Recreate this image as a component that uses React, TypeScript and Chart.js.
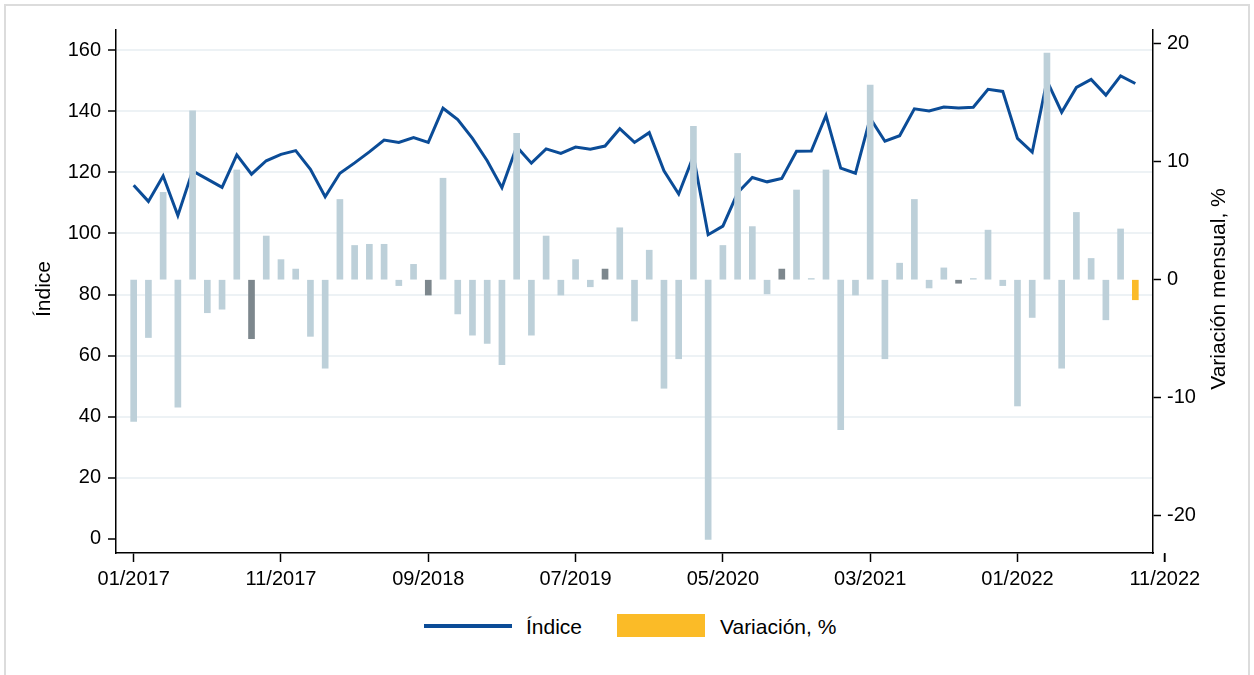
import { useEffect, useRef } from "react";
import { Chart, registerables } from "chart.js";

Chart.register(...registerables);

// Monthly index (left axis), 01/2017 .. 09/2022
const indice = [
  115.8, 110.5, 118.8, 105.9, 120.5, 117.8, 115.1, 125.7, 119.4, 123.8, 125.9, 127.1,
  121.0, 112.0, 119.7, 123.1, 126.7, 130.6, 129.8, 131.4, 129.8, 141.0, 137.3, 131.1,
  123.8, 115.0, 128.4, 123.0, 127.7, 126.2, 128.3, 127.6, 128.6, 134.3, 129.8, 133.0,
  120.5, 112.9, 125.3, 99.6, 102.4, 113.3, 118.3, 116.9, 118.0, 126.9, 127.0, 138.6,
  121.4, 119.7, 137.7, 130.2, 132.0, 140.8, 140.1, 141.4, 141.1, 141.3, 147.2, 146.5,
  131.1, 126.6, 150.0, 139.7, 147.8, 150.4, 145.3, 151.6, 149.1,
];

// Monthly variation, % (right axis)
const variacion = [
  -12.0, -4.9, 7.4, -10.8, 14.3, -2.8, -2.5, 9.3, -5.0, 3.7, 1.7, 0.9,
  -4.8, -7.5, 6.8, 2.9, 3.0, 3.0, -0.5, 1.3, -1.3, 8.6, -2.9, -4.7,
  -5.4, -7.2, 12.4, -4.7, 3.7, -1.3, 1.7, -0.6, 0.9, 4.4, -3.5, 2.5,
  -9.2, -6.7, 13.0, -22.0, 2.9, 10.7, 4.5, -1.2, 0.9, 7.6, 0.1, 9.3,
  -12.7, -1.3, 16.5, -6.7, 1.4, 6.8, -0.7, 1.0, -0.3, 0.1, 4.2, -0.5,
  -10.7, -3.2, 19.2, -7.5, 5.7, 1.8, -3.4, 4.3, -1.7,
];

const xTickValues = [0, 10, 20, 30, 40, 50, 60, 70];
const xTickLabels = ["01/2017", "11/2017", "09/2018", "07/2019", "05/2020", "03/2021", "01/2022", "11/2022"];
const leftTicks = [0, 20, 40, 60, 80, 100, 120, 140, 160];
const rightTicks = [-20, -10, 0, 10, 20];

const FONT = "'Liberation Sans', Arial, Helvetica, sans-serif";
const LINE_COLOR = "#0b4c97";
const BAR_LIGHT = "#bdd0d9";
const BAR_DARK = "#7d878d";
const BAR_LAST = "#fbbb27";

export default function App() {
  const ref = useRef<HTMLCanvasElement | null>(null);

  useEffect(() => {
    document.body.style.margin = "0";
    const canvas = ref.current;
    if (!canvas) return;

    const barColors = variacion.map((_, i) =>
      i === variacion.length - 1 ? BAR_LAST : i % 12 === 8 ? BAR_DARK : BAR_LIGHT
    );

    const extras = {
      id: "extras",
      afterDraw(chart: any) {
        const { ctx, chartArea, scales } = chart;
        ctx.save();
        // detached last x tick (outside plot region)
        const x70 = scales.x.getPixelForValue(70);
        ctx.strokeStyle = "#000";
        ctx.lineWidth = 1.5;
        ctx.beginPath();
        ctx.moveTo(x70, chartArea.bottom);
        ctx.lineTo(x70, chartArea.bottom + 9);
        ctx.stroke();
        // axis titles, both reading bottom-to-top
        ctx.fillStyle = "#000";
        ctx.font = `21px ${FONT}`;
        ctx.textAlign = "center";
        ctx.textBaseline = "middle";
        ctx.save();
        ctx.translate(44, 289);
        ctx.rotate(-Math.PI / 2);
        ctx.fillText("Índice", 0, 0);
        ctx.restore();
        ctx.save();
        ctx.translate(1219, 289);
        ctx.rotate(-Math.PI / 2);
        ctx.fillText("Variación mensual, %", 0, 0);
        ctx.restore();
        ctx.restore();
      },
    };

    const tickFont = { family: FONT, size: 20 };

    const chart = new Chart(canvas, {
      type: "line",
      data: {
        datasets: [
          {
            type: "bar",
            label: "Variación, %",
            data: variacion.map((v, i) => ({ x: i, y: v })),
            backgroundColor: barColors,
            borderWidth: 0,
            barThickness: 6,
            yAxisID: "y1",
            order: 0,
          } as any,
          {
            type: "line",
            label: "Índice",
            data: indice.map((v, i) => ({ x: i, y: v })),
            borderColor: LINE_COLOR,
            borderWidth: 3,
            pointRadius: 0,
            tension: 0,
            fill: false,
            yAxisID: "y",
            order: 1,
          } as any,
        ],
      },
      options: {
        animation: false,
        responsive: false,
        devicePixelRatio: 1,
        layout: { padding: { top: 30, left: 0, right: 0, bottom: 0 } },
        plugins: { legend: { display: false }, tooltip: { enabled: false }, title: { display: false } },
        scales: {
          x: {
            type: "linear",
            min: -1.2,
            max: 69.2,
            offset: false,
            afterBuildTicks: (s: any) => {
              s.ticks = xTickValues.map((v) => ({ value: v }));
            },
            afterFit: (s: any) => {
              s.height = 47;
            },
            ticks: {
              autoSkip: false,
              maxRotation: 0,
              minRotation: 0,
              padding: 5,
              color: "#000",
              font: tickFont,
              callback: (v: any) => {
                const idx = xTickValues.indexOf(Number(v));
                return idx >= 0 ? xTickLabels[idx] : "";
              },
            },
            grid: {
              offset: false,
              drawOnChartArea: false,
              drawTicks: true,
              tickLength: 9,
              tickColor: "#000",
              tickWidth: 1.5,
            },
            border: { display: true, color: "#000", width: 1.5 },
          },
          y: {
            type: "linear",
            position: "left",
            min: -4.6,
            max: 166.6,
            afterBuildTicks: (s: any) => {
              s.ticks = leftTicks.map((v) => ({ value: v }));
            },
            afterFit: (s: any) => {
              s.width = 116;
            },
            ticks: { padding: 7, color: "#000", font: tickFont },
            grid: {
              drawOnChartArea: true,
              drawTicks: true,
              tickLength: 8,
              tickColor: "#000",
              tickWidth: 1.5,
              lineWidth: 2,
              color: (c: any) => (c.tick && c.tick.value === 0 ? "rgba(0,0,0,0)" : "#edf2f5"),
            },
            border: { display: true, color: "#000", width: 1.5 },
          },
          y1: {
            type: "linear",
            position: "right",
            min: -23.16,
            max: 21.16,
            afterBuildTicks: (s: any) => {
              s.ticks = rightTicks.map((v) => ({ value: v }));
            },
            afterFit: (s: any) => {
              s.width = 101;
            },
            ticks: { padding: 6, color: "#000", font: tickFont },
            grid: {
              drawOnChartArea: false,
              drawTicks: true,
              tickLength: 8,
              tickColor: "#000",
              tickWidth: 1.5,
            },
            border: { display: true, color: "#000", width: 1.5 },
          },
        },
      } as any,
      plugins: [extras],
    });

    return () => chart.destroy();
  }, []);

  const legendText = {
    position: "absolute" as const,
    top: 615,
    height: 24,
    lineHeight: "24px",
    font: `21px ${FONT}`,
    color: "#000",
    whiteSpace: "nowrap" as const,
  };

  return (
    <div style={{ position: "relative", width: 1254, height: 675, background: "#fff", overflow: "hidden" }}>
      <div
        style={{
          position: "absolute",
          left: 4,
          top: 4,
          width: 1246,
          height: 720,
          border: "2px solid #dcdcdc",
          boxSizing: "border-box",
        }}
      />
      <canvas ref={ref} width={1254} height={600} style={{ position: "absolute", left: 0, top: 0 }} />
      <div style={{ position: "absolute", left: 424, top: 624, width: 88, height: 3.5, background: LINE_COLOR }} />
      <div style={{ ...legendText, left: 526 }}>Índice</div>
      <div style={{ position: "absolute", left: 617, top: 614, width: 88, height: 23, background: BAR_LAST }} />
      <div style={{ ...legendText, left: 720 }}>Variación, %</div>
    </div>
  );
}
